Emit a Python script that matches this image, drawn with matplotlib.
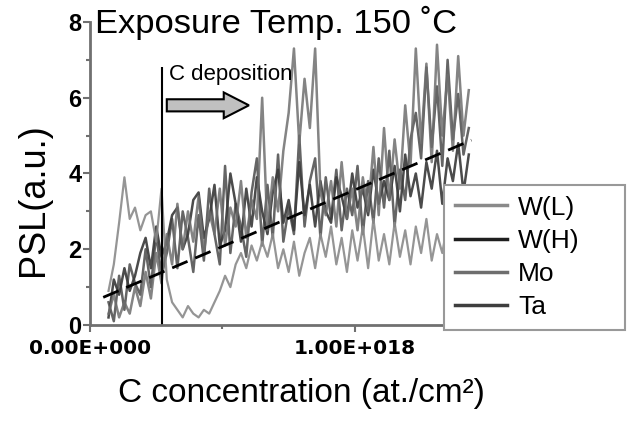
import numpy as np
import matplotlib
matplotlib.use('Agg')
import matplotlib.pyplot as plt
from matplotlib.patches import FancyArrow

plt.rcParams['font.family'] = ['Liberation Sans', 'DejaVu Sans']

# C concentration in units of 1E18 at./cm2
conc = [0.07, 0.09, 0.11, 0.13, 0.15, 0.17, 0.19, 0.21, 0.23, 0.25,
        0.27, 0.29, 0.31, 0.33, 0.35, 0.37, 0.39, 0.41, 0.43, 0.45,
        0.47, 0.49, 0.51, 0.53, 0.55, 0.57, 0.59, 0.61, 0.63, 0.65,
        0.67, 0.69, 0.71, 0.73, 0.75, 0.77, 0.79, 0.81, 0.83, 0.85,
        0.87, 0.89, 0.91, 0.93, 0.95, 0.97, 0.99, 1.01, 1.03, 1.05,
        1.07, 1.09, 1.11, 1.13, 1.15, 1.17, 1.19, 1.21, 1.23, 1.25,
        1.27, 1.29, 1.31, 1.33, 1.35, 1.37, 1.39, 1.41, 1.43]

psl_wl = [0.9, 1.6, 2.7, 3.9, 2.8, 3.1, 2.5, 2.9, 3.0, 2.2,
          3.6, 1.2, 0.6, 0.4, 0.2, 0.5, 0.3, 0.2, 0.4, 0.3,
          0.6, 0.9, 1.3, 1.0, 1.6, 1.9, 1.5, 2.1, 1.7, 2.2,
          1.8, 2.4, 1.5, 2.0, 1.4, 2.2, 1.3, 1.9, 2.3, 1.5,
          2.4, 1.8, 2.6, 1.6, 2.3, 1.4, 2.5, 1.7, 2.6, 1.5,
          2.8, 1.7, 2.4, 1.6, 2.7, 1.8, 2.5, 1.6, 2.6, 1.9,
          2.8, 1.7, 2.4, 1.9, 2.7, 1.8, 2.5, 2.0, 2.4]

psl_wh = [0.2, 1.2, 0.8, 1.5, 0.9, 1.3, 1.9, 2.3, 1.5, 2.6,
          1.8, 2.2, 2.9, 3.1, 2.0, 2.4, 3.3, 3.5, 2.3, 2.8,
          3.7, 2.1, 2.5, 4.0, 3.2, 2.2, 3.6, 2.6, 3.9, 3.0,
          2.4, 3.5, 4.1, 2.7, 3.3, 2.5, 4.3, 2.9, 3.7, 2.6,
          3.8, 3.0, 2.7, 3.9, 3.4, 2.8, 4.0, 3.1, 3.6, 2.9,
          4.1, 3.2, 3.8, 3.3, 4.2, 3.0, 4.5, 3.4, 4.0, 3.1,
          4.3, 3.6, 4.6, 3.2, 4.4, 3.8, 4.8, 3.5, 4.5]

psl_mo = [0.3, 0.8, 0.2, 0.6, 0.3, 1.0, 0.5, 1.4, 0.7, 1.9,
          1.1, 2.4, 1.6, 3.2, 2.0, 3.0, 2.2, 3.4, 1.9, 3.0,
          2.4, 3.6, 2.1, 3.1, 2.6, 3.8, 2.3, 3.3, 2.8, 6.0,
          2.5, 3.9, 3.0, 4.6, 5.6, 7.3, 4.8, 6.5, 5.2, 7.3,
          3.5, 2.9, 3.8, 2.6, 4.3, 2.8, 3.6, 2.5, 3.9, 3.0,
          4.7, 2.9, 5.2, 3.3, 4.9, 3.6, 5.8, 4.2, 7.3, 4.8,
          6.9, 4.3, 7.4, 5.0, 6.6, 4.6, 7.1, 5.0, 6.2]

psl_ta = [0.6, 0.1, 1.3, 0.4, 1.6, 1.1, 0.8, 2.0, 1.0, 2.4,
          1.3, 1.9, 2.8, 1.5, 3.0, 2.3, 1.4, 2.9, 1.7, 3.6,
          2.4, 1.6, 4.2, 1.9, 3.2, 2.6, 1.8, 3.5, 4.4, 2.1,
          3.7, 2.3, 4.5, 2.2, 3.1, 2.4, 5.0, 2.6, 3.8, 4.4,
          2.3, 3.9, 2.8, 4.1, 2.5, 3.6, 2.9, 4.2, 2.4, 3.8,
          2.7, 4.4, 3.1, 4.6, 2.6, 4.1, 3.3, 4.9, 5.6, 4.4,
          6.8, 4.7, 6.3, 4.2, 7.0, 4.9, 6.1, 4.5, 5.2]

# dashed trend line end points
trend_x = [0.05, 1.44]
trend_y = [0.73, 4.88]

deposition_start = 0.272
xtick_pos = [0.0, 1.0]
xtick_labels = ['0.00E+000', '1.00E+018']

fig = plt.figure(figsize=(6.27, 4.23), dpi=100)
ax = fig.add_axes([0.1435, 0.2317, 0.845, 0.7163])

ax.plot(conc, psl_wh, color='#1e1e1e', lw=1.8, alpha=0.8, label='W(H)')
ax.plot(conc, psl_ta, color='#3e3e3e', lw=1.8, alpha=0.8, label='Ta')
ax.plot(conc, psl_wl, color='#8a8a8a', lw=1.6, alpha=0.9, label='W(L)')
ax.plot(conc, psl_mo, color='#6e6e6e', lw=1.8, alpha=0.85, label='Mo')
ax.plot(trend_x, trend_y, color='black', lw=2, dashes=(6, 3))

ax.vlines(deposition_start, 0, 6.8, color='black', lw=1.5)
ax.add_patch(FancyArrow(0.29, 5.8, 0.31, 0, width=0.32, head_width=0.68,
                        head_length=0.095, length_includes_head=True,
                        facecolor='#c0c0c0', edgecolor='black', lw=1.5, zorder=5))
ax.text(0.30, 6.62, 'C deposition', fontsize=16, va='center', ha='left')

ax.set_xlim(0, 2.0)
ax.set_ylim(0, 8)
for s in ['top', 'right']:
    ax.spines[s].set_visible(False)
for s in ['left', 'bottom']:
    ax.spines[s].set_color('#707070')
    ax.spines[s].set_linewidth(2)

ax.set_yticks([0, 2, 4, 6, 8])
ax.set_yticks([1, 3, 5, 7], minor=True)
ax.set_xticks(xtick_pos)
ax.set_xticklabels(xtick_labels)
ax.set_xticks([0.5, 1.5], minor=True)
ax.tick_params(axis='y', which='major', length=5, width=1.5, color='#707070',
               pad=1, labelsize=17)
ax.tick_params(axis='x', which='major', length=5, width=1.5, color='#707070',
               pad=5)
ax.tick_params(which='minor', length=3, width=1.5, color='#707070')
for lab in ax.get_yticklabels():
    lab.set_fontweight('bold')
for lab in ax.get_xticklabels():
    lab.set_fontweight('bold')
    lab.set_fontfamily('DejaVu Sans')
    lab.set_fontsize(14.5)

fig.text(34 / 627, 1 - 200 / 423, 'PSL(a.u.)', rotation=90, fontsize=26,
         ha='center', va='center')
fig.text(301 / 627, 1 - 393 / 423, 'C concentration (at./cm²)', fontsize=24,
         ha='center', va='center')

ax.text(95 / 627, 1 - 23 / 423, 'Exposure Temp. 150 ˚C', transform=fig.transFigure,
        fontsize=24.8, ha='left', va='center', zorder=10,
        bbox=dict(facecolor='white', edgecolor='none', pad=2))

handles, labels = ax.get_legend_handles_labels()
order = [labels.index(n) for n in ['W(L)', 'W(H)', 'Mo', 'Ta']]
leg = ax.legend([handles[i] for i in order], [labels[i] for i in order],
                loc='upper left', bbox_to_anchor=(444 / 627, 1 - 185 / 423, 181 / 627, 0),
                bbox_transform=fig.transFigure, mode='expand', borderaxespad=0,
                fontsize=19, handlelength=2.0, handletextpad=0.4, labelspacing=0.35,
                fancybox=False, framealpha=1, edgecolor='#999999')
leg.get_frame().set_linewidth(1.5)
for h in leg.get_lines():
    h.set_linewidth(2.5)
    h.set_alpha(1)

plt.savefig('out.png', dpi=100)
